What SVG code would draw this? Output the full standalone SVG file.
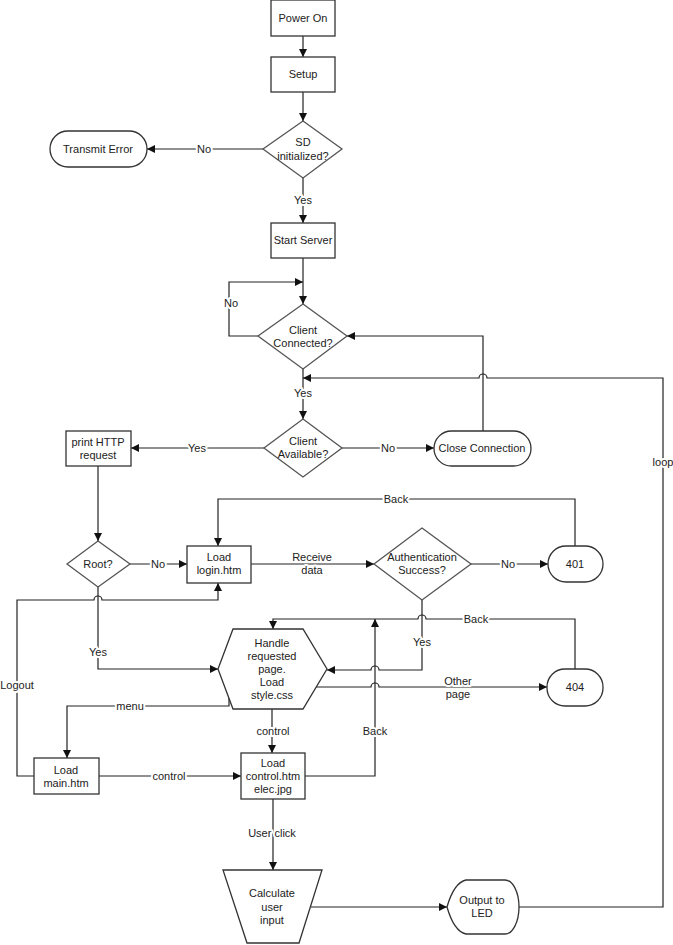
<svg xmlns="http://www.w3.org/2000/svg" width="673" height="945" viewBox="0 0 673 945">
<defs>
<marker id="ah" viewBox="0 0 10 10" refX="10" refY="5" markerWidth="9" markerHeight="8" markerUnits="userSpaceOnUse" orient="auto">
<path d="M0,0 L10,5 L0,10 Z" fill="#111"/>
</marker>
</defs>
<style>
.n{fill:#fff;stroke:#333;stroke-width:1.3}
.d{fill:#fff;stroke:#555;stroke-width:1.3}
.t{font-family:"Liberation Sans",Arial,sans-serif;font-size:11px;fill:#222;text-anchor:middle;dominant-baseline:central}
.e{fill:none;stroke:#222;stroke-width:1.2}
.a{marker-end:url(#ah)}
.l{font-family:"Liberation Sans",Arial,sans-serif;font-size:11px;fill:#222;text-anchor:middle;dominant-baseline:central;stroke:#fff;stroke-width:4;paint-order:stroke;stroke-linejoin:round}
</style>
<rect width="673" height="945" fill="#fff"/>

<g id="connectors">
<path class="e a" d="M303,36 V57"/>
<path class="e a" d="M303,92 V121"/>
<path class="e a" d="M263,149 H147"/>
<path class="e a" d="M303,178 V223"/>
<path class="e a" d="M303,258 V304"/>
<path class="e a" d="M258,336 H229 V282 H303"/>
<path class="e a" d="M303,369 V419"/>
<path class="e a" d="M264,448 H131"/>
<path class="e a" d="M342,448 H434"/>
<path class="e a" d="M483,431 V336 H347"/>
<path class="e a" d="M98,466 V541"/>
<path class="e a" d="M130,564 H187"/>
<path class="e a" d="M251,564 H374"/>
<path class="e a" d="M471,564 H548"/>
<path class="e a" d="M575,546 V499 H218 V546"/>
<path class="e a" d="M98,587 V669 H218"/>
<path class="e a" d="M34,776 H17 V600 H94 A4,4 0 0 1 102,600 H218 V583"/>
<path class="e a" d="M422,600 V670 H379 A4,4 0 0 0 371,670 H327"/>
<path class="e a" d="M575,669 V619 H426 A4,4 0 0 0 418,619 H273 V629"/>
<path class="e a" d="M316,687 H371 A4,4 0 0 1 379,687 H547"/>
<path class="e a" d="M229,697 V706 H67 V758"/>
<path class="e a" d="M272,709 V753"/>
<path class="e a" d="M99,776 H241"/>
<path class="e a" d="M305,776 H375 V619"/>
<path class="e a" d="M273,799 V870"/>
<path class="e a" d="M311,907 H447"/>
<path class="e a" d="M519,907 H663 V378 H487 A4,4 0 0 0 479,378 H303"/>

<text class="l" x="204" y="149">No</text>
<text class="l" x="303" y="200">Yes</text>
<text class="l" x="231" y="303">No</text>
<text class="l" x="303" y="393">Yes</text>
<text class="l" x="197" y="448">Yes</text>
<text class="l" x="388" y="448">No</text>
<text class="l" x="158" y="564">No</text>
<text class="l" x="312" y="557">Receive</text>
<text class="l" x="312" y="570">data</text>
<text class="l" x="508" y="564">No</text>
<text class="l" x="396" y="499">Back</text>
<text class="l" x="98" y="652">Yes</text>
<text class="l" x="17" y="685">Logout</text>
<text class="l" x="422" y="642">Yes</text>
<text class="l" x="476" y="619">Back</text>
<text class="l" x="458" y="681">Other</text>
<text class="l" x="458" y="694">page</text>
<text class="l" x="130" y="706">menu</text>
<text class="l" x="273" y="731">control</text>
<text class="l" x="169" y="776">control</text>
<text class="l" x="375" y="731">Back</text>
<text class="l" x="272" y="833">User click</text>
<text class="l" x="663" y="462">loop</text>
</g>

<g id="power-on">
<rect class="n" x="271" y="0" width="64" height="36"/>
<text class="t" x="303" y="18">Power On</text>
</g>
<g id="setup">
<rect class="n" x="271" y="57" width="64" height="35"/>
<text class="t" x="303" y="74">Setup</text>
</g>
<g id="sd-initialized">
<polygon class="d" points="303,121 342,149 303,178 263,149"/>
<text class="t" x="303" y="142">SD</text>
<text class="t" x="303" y="156">initialized?</text>
</g>
<g id="transmit-error">
<rect class="n" x="50" y="131" width="97" height="36" rx="18"/>
<text class="t" x="98" y="149">Transmit Error</text>
</g>
<g id="start-server">
<rect class="n" x="271" y="223" width="64" height="35"/>
<text class="t" x="303" y="240">Start Server</text>
</g>
<g id="client-connected">
<polygon class="d" points="303,304 347,336 303,369 258,336"/>
<text class="t" x="303" y="330">Client</text>
<text class="t" x="303" y="343">Connected?</text>
</g>
<g id="client-available">
<polygon class="d" points="303,419 342,448 303,477 264,448"/>
<text class="t" x="303" y="441">Client</text>
<text class="t" x="303" y="454">Available?</text>
</g>
<g id="print-http">
<rect class="n" x="66" y="431" width="65" height="35"/>
<text class="t" x="98" y="442">print HTTP</text>
<text class="t" x="98" y="455">request</text>
</g>
<g id="close-connection">
<rect class="n" x="434" y="431" width="97" height="35" rx="17.5"/>
<text class="t" x="482" y="448">Close Connection</text>
</g>
<g id="root">
<polygon class="d" points="98,541 130,564 98,587 67,564"/>
<text class="t" x="98" y="564">Root?</text>
</g>
<g id="load-login">
<rect class="n" x="187" y="546" width="64" height="37"/>
<text class="t" x="219" y="557">Load</text>
<text class="t" x="219" y="570">login.htm</text>
</g>
<g id="auth-success">
<polygon class="d" points="422,528 471,564 422,600 374,564"/>
<text class="t" x="422" y="557">Authentication</text>
<text class="t" x="422" y="570">Success?</text>
</g>
<g id="e401">
<rect class="n" x="548" y="546" width="55" height="36" rx="18"/>
<text class="t" x="575" y="564">401</text>
</g>
<g id="handle-page">
<polygon class="n" points="218,669 233,629 303,629 327,669 303,709 233,709"/>
<text class="t" x="272" y="643">Handle</text>
<text class="t" x="272" y="656">requested</text>
<text class="t" x="272" y="669">page.</text>
<text class="t" x="272" y="682">Load</text>
<text class="t" x="272" y="695">style.css</text>
</g>
<g id="e404">
<rect class="n" x="547" y="669" width="56" height="37" rx="18"/>
<text class="t" x="575" y="687">404</text>
</g>
<g id="load-main">
<rect class="n" x="34" y="758" width="65" height="36"/>
<text class="t" x="66" y="770">Load</text>
<text class="t" x="66" y="783">main.htm</text>
</g>
<g id="load-control">
<rect class="n" x="241" y="753" width="64" height="46"/>
<text class="t" x="273" y="763">Load</text>
<text class="t" x="273" y="776">control.htm</text>
<text class="t" x="273" y="789">elec.jpg</text>
</g>
<g id="calculate">
<polygon class="n" points="223,870 322,870 299,943 247,943"/>
<text class="t" x="272" y="893">Calculate</text>
<text class="t" x="272" y="907">user</text>
<text class="t" x="272" y="920">input</text>
</g>
<g id="output-led">
<path class="n" d="M447,907 C451,893 457,882 466,880 H505 A14,27 0 0 1 505,934 H466 C457,932 451,921 447,907 Z"/>
<text class="t" x="482" y="900">Output to</text>
<text class="t" x="482" y="913">LED</text>
</g>
</svg>
